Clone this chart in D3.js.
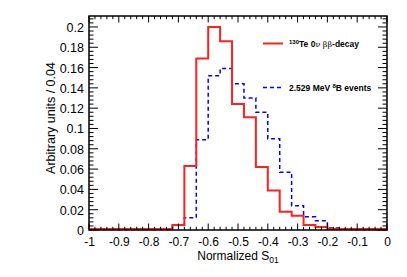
<!DOCTYPE html>
<html><head><meta charset="utf-8">
<script src="https://cdn.jsdelivr.net/npm/d3@7"></script>
<style>body{margin:0;background:#fff}svg{display:block}text{font-family:"Liberation Sans",Arial,sans-serif}</style>
</head><body>
<script>
const binEdges = d3.range(0,26).map(i => -1 + i*0.04);
const teValues = [0.001,0.001,0.001,0.001,0.001,0.001,0.001,0.005,0.063,0.169,0.200,0.186,0.124,0.111,0.062,0.039,0.018,0.014,0.005,0.003,0.001,0.001,0.001,0.001,0.001];
const bValues  = [0.0005,0.0005,0.0005,0.0005,0.0005,0.0005,0.0005,0.005,0.012,0.089,0.152,0.159,0.144,0.130,0.116,0.090,0.057,0.024,0.013,0.009,0.002,0.001,0.0005,0.0005,0.0005];
const xTicks = [-1,-0.9,-0.8,-0.7,-0.6,-0.5,-0.4,-0.3,-0.2,-0.1,0];
const yTicks = [0,0.02,0.04,0.06,0.08,0.1,0.12,0.14,0.16,0.18,0.2];

const W=407,H=277, L=89, R=387, T=16, B=230;
const svg=d3.select("body").append("svg").attr("width",W).attr("height",H);
const x=d3.scaleLinear().domain([-1,0]).range([L,R]);
const y=d3.scaleLinear().domain([0,0.2108]).range([B,T]);

function stepPath(vals){
  const pts=[];
  vals.forEach((v,i)=>{pts.push([x(binEdges[i]),y(v)]);pts.push([x(binEdges[i+1]),y(v)]);});
  return d3.line()(pts);
}
svg.append("path").attr("d",stepPath(bValues)).attr("fill","none").attr("stroke","#0000ff").attr("stroke-width",1.5).attr("stroke-dasharray","4,3");
svg.append("path").attr("d",stepPath(teValues)).attr("fill","none").attr("stroke","#ff2020").attr("stroke-width",2);

// axes with inward ticks
const fmt = d => d===0?"0":String(d);
const xMinor = d3.range(0,51).map(i=>-1+i*0.02);
const yMinor = d3.range(0,53).map(i=>i*0.004).filter(v=>v<=0.2108);
function axisTicks(){
  const g=svg.append("g").attr("stroke","#000").attr("stroke-width",1);
  xMinor.forEach((v,i)=>{
    const len = (i%5===0)?6.5:3.2;
    g.append("line").attr("x1",x(v)).attr("x2",x(v)).attr("y1",B).attr("y2",B-len);
    g.append("line").attr("x1",x(v)).attr("x2",x(v)).attr("y1",T).attr("y2",T+len);
  });
  yMinor.forEach((v,i)=>{
    const len = (i%5===0)?9:4.5;
    g.append("line").attr("y1",y(v)).attr("y2",y(v)).attr("x1",L).attr("x2",L+len);
    g.append("line").attr("y1",y(v)).attr("y2",y(v)).attr("x1",R).attr("x2",R-len);
  });
}
axisTicks();
svg.append("rect").attr("x",L).attr("y",T).attr("width",R-L).attr("height",B-T).attr("fill","none").attr("stroke","#000").attr("stroke-width",1.5);

const xAxis=d3.axisBottom(x).tickValues(xTicks).tickSize(0).tickPadding(0).tickFormat(fmt);
const gx=svg.append("g").attr("transform",`translate(0,${B})`).call(xAxis);
gx.select(".domain").remove();
gx.selectAll("text").attr("dy",null).attr("y",16).attr("font-size",12).attr("fill","#000").style("font-family","Liberation Sans, Arial, sans-serif");
const yAxis=d3.axisLeft(y).tickValues(yTicks).tickSize(0).tickPadding(0).tickFormat(fmt);
const gy=svg.append("g").attr("transform",`translate(${L},0)`).call(yAxis);
gy.select(".domain").remove();
gy.selectAll("text").attr("x",-5).attr("dy","0.36em").attr("font-size",12.5).attr("fill","#000").style("font-family","Liberation Sans, Arial, sans-serif");

// axis titles
const xt=svg.append("text").attr("x",238).attr("y",260).attr("text-anchor","middle").attr("font-size",12);
xt.append("tspan").text("Normalized S");
xt.append("tspan").attr("font-size",8.5).attr("dy",3).text("01");
svg.append("text").attr("transform","translate(55,118) rotate(-90)").attr("text-anchor","middle").attr("font-size",12.5).text("Arbitrary units / 0.04");

// legend
svg.append("line").attr("x1",263).attr("x2",283).attr("y1",43.5).attr("y2",43.5).attr("stroke","#ff2020").attr("stroke-width",2);
svg.append("line").attr("x1",263).attr("x2",283).attr("y1",87.5).attr("y2",87.5).attr("stroke","#0000ff").attr("stroke-width",1.5).attr("stroke-dasharray","4,3");
const l1=svg.append("text").attr("x",289).attr("y",47).attr("font-size",8.5).attr("font-weight","bold");
l1.append("tspan").attr("font-size",6).attr("dy",-3.5).text("130");
l1.append("tspan").attr("dy",3.5).text("Te 0");
l1.append("tspan").attr("font-weight","normal").attr("font-family","DejaVu Serif, serif").attr("font-size",8).text("ν ββ");
l1.append("tspan").text("-decay");
const l2=svg.append("text").attr("x",289).attr("y",91).attr("font-size",8.5).attr("font-weight","bold");
l2.append("tspan").text("2.529 MeV ");
l2.append("tspan").attr("font-size",6).attr("dy",-3.5).text("8");
l2.append("tspan").attr("dy",3.5).text("B events");
</script>
</body></html>
